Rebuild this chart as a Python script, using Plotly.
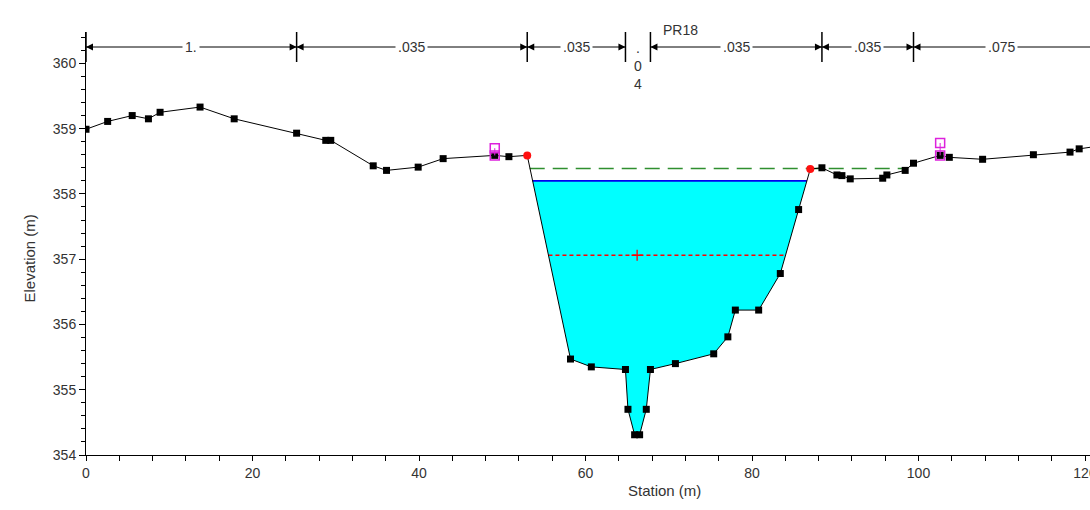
import numpy as np
import plotly.graph_objects as go

# ---------------- data ----------------
title = "PR18"
station = [0, 2.6, 5.55, 7.5, 8.9, 13.7, 17.8, 25.3, 28.8, 29.4, 34.5, 36.1, 39.9, 42.9,
           49.1, 50.8, 53.0, 58.2, 60.7, 64.8, 65.1, 65.9, 66.5, 67.3, 67.8, 70.8, 75.4,
           77.1, 78.0, 80.8, 83.4, 85.6, 87.0, 88.4, 90.2, 90.8, 91.8, 95.7, 96.2, 98.4,
           99.4, 102.6, 103.7, 107.7, 113.8, 118.2, 119.3, 121.5]
elevation = [358.99, 359.11, 359.20, 359.15, 359.25, 359.33, 359.15, 358.93, 358.82, 358.82,
             358.43, 358.36, 358.41, 358.54, 358.59, 358.57, 358.59, 355.47, 355.35, 355.31,
             354.70, 354.31, 354.31, 354.70, 355.31, 355.40, 355.55, 355.81, 356.22, 356.22,
             356.78, 357.76, 358.38, 358.40, 358.29, 358.28, 358.23, 358.24, 358.29, 358.36,
             358.47, 358.59, 358.56, 358.53, 358.60, 358.64, 358.69, 358.73]
bank_stations = [53.0, 87.0]
ws_elev = 358.20
eg_elev = 358.39
eg_stations = [53.3, 98.6]
crit_elev = 357.06
crit_mark_station = 66.2
ineff_left = {"sta": [49.1, 49.1], "elev": [358.70, 358.59]}
ineff_right = {"sta": [102.6, 102.6], "elev": [358.78, 358.59]}
n_stations = [0, 25.3, 53.0, 64.8, 67.8, 88.4, 99.4]
n_values = ["1.", ".035", ".035", ".04", ".035", ".035", ".075"]
x_tick_step = 20
y_tick_step = 1

# ---------------- layout geometry ----------------
W, H = 1090, 510
L_PX, R_PX, T_PX, B_PX = 86, 1090, 32, 455
X_RANGE = [0, 120.6]
Y_RANGE = [354, 360.48]
N_LINE_Y = 360.25
N_SEP_BOT = 360.02
PX_PER_M = (B_PX - T_PX) / (Y_RANGE[1] - Y_RANGE[0])

FONT = "Liberation Sans, Arial, sans-serif"
TXT = "#333333"
FS = 14

sta = np.array(station)
elv = np.array(elevation)


def crossings(level):
    i0 = int(np.argmin(elv))
    i = i0
    while i > 0 and elv[i - 1] < level:
        i -= 1
    a, b = i - 1, i
    xl = sta[a] + (level - elv[a]) / (elv[b] - elv[a]) * (sta[b] - sta[a])
    j = i0
    while j < len(elv) - 1 and elv[j + 1] < level:
        j += 1
    a, b = j, j + 1
    xr = sta[a] + (level - elv[a]) / (elv[b] - elv[a]) * (sta[b] - sta[a])
    return xl, xr


def paper_x(px):
    return (px - L_PX) / (R_PX - L_PX)


def paper_y(py):
    return (B_PX - py) / (B_PX - T_PX)


fig = go.Figure()

# water fill
wl, wr = crossings(ws_elev)
inside = (sta > wl) & (sta < wr)
fx = [wl] + list(sta[inside]) + [wr, wl]
fy = [ws_elev] + list(elv[inside]) + [ws_elev, ws_elev]
fig.add_trace(go.Scatter(x=fx, y=fy, fill="toself", fillcolor="#00ffff", mode="lines",
                         line=dict(width=0), hoverinfo="skip", showlegend=False))
# water surface line
fig.add_trace(go.Scatter(x=[wl, wr], y=[ws_elev, ws_elev], mode="lines",
                         line=dict(color="#0000ee", width=1.6), showlegend=False))
# energy grade line
fig.add_trace(go.Scatter(x=eg_stations, y=[eg_elev, eg_elev], mode="lines",
                         line=dict(color="#2f8f2f", width=1.4, dash="15px,8px"),
                         showlegend=False))
# critical line
cl, cr = crossings(crit_elev)
fig.add_trace(go.Scatter(x=[cl, cr], y=[crit_elev, crit_elev], mode="lines",
                         line=dict(color="#ff0000", width=1.3, dash="4px,3px"),
                         showlegend=False))
fig.add_trace(go.Scatter(x=[crit_mark_station], y=[crit_elev], mode="markers",
                         marker=dict(symbol="cross-thin", size=8, color="#ff0000",
                                     line=dict(color="#ff0000", width=1.3)),
                         showlegend=False))

# ground line
is_bank = np.isin(sta, bank_stations)
fig.add_trace(go.Scatter(x=sta, y=elv, mode="lines",
                         line=dict(color="black", width=1), showlegend=False))
fig.add_trace(go.Scatter(x=sta[~is_bank], y=elv[~is_bank], mode="markers",
                         marker=dict(symbol="square", size=7, color="black"),
                         showlegend=False))
fig.add_trace(go.Scatter(x=sta[is_bank], y=elv[is_bank], mode="markers",
                         marker=dict(symbol="circle", size=8, color="#ff1010"),
                         showlegend=False))

# ineffective markers
for ob in (ineff_left, ineff_right):
    fig.add_trace(go.Scatter(x=ob["sta"], y=ob["elev"], mode="lines+markers",
                             line=dict(color="#dd22dd", width=1),
                             marker=dict(symbol="square-open", size=9, color="#dd22dd",
                                         line=dict(width=1.5)),
                             showlegend=False))

# Manning's n bar
ends = n_stations[1:] + [station[-1]]
sep_x, sep_y, hx, hy = [], [], [], []
al_x, ar_x = [], []
annotations = []
for a, b, v in zip(n_stations, ends, n_values):
    sep_x += [a, a, None]
    sep_y += [N_SEP_BOT, Y_RANGE[1], None]
    if b - a < 5:
        annotations.append(dict(x=(a + b) / 2, y=N_LINE_Y - 19 / PX_PER_M,
                                xref="x", yref="y",
                                text="<br>".join(v), showarrow=False, yanchor="middle",
                                font=dict(family=FONT, size=FS, color=TXT)))
        continue
    hx += [a, b, None]
    hy += [N_LINE_Y, N_LINE_Y, None]
    al_x.append(a)
    ar_x.append(b)
    mid = (a + min(b, X_RANGE[1])) / 2
    annotations.append(dict(x=mid, y=N_LINE_Y, xref="x", yref="y", text=v,
                            showarrow=False, bgcolor="white", borderpad=2,
                            font=dict(family=FONT, size=FS, color=TXT)))
sep_x += [ends[-1], ends[-1], None]
sep_y += [N_SEP_BOT, Y_RANGE[1], None]

fig.add_trace(go.Scatter(x=hx, y=hy, mode="lines", line=dict(color="black", width=1),
                         showlegend=False))
fig.add_trace(go.Scatter(x=sep_x, y=sep_y, mode="lines", line=dict(color="black", width=1.5),
                         showlegend=False))
fig.add_trace(go.Scatter(x=al_x, y=[N_LINE_Y] * len(al_x), mode="markers",
                         marker=dict(symbol="arrow-left", size=7, color="black"),
                         showlegend=False))
fig.add_trace(go.Scatter(x=ar_x, y=[N_LINE_Y] * len(ar_x), mode="markers",
                         marker=dict(symbol="arrow-right", size=7, color="black"),
                         showlegend=False))

# titles
annotations.append(dict(x=paper_x(680), y=paper_y(20), xref="paper", yref="paper",
                        text=title, showarrow=False,
                        font=dict(family=FONT, size=FS, color=TXT)))
annotations.append(dict(x=paper_x(18), y=paper_y(259), xref="paper", yref="paper",
                        text="Elevation (m)", showarrow=False, textangle=-90,
                        font=dict(family=FONT, size=15, color=TXT)))
annotations.append(dict(x=paper_x(664), y=paper_y(501), xref="paper", yref="paper",
                        text="Station (m)", showarrow=False,
                        font=dict(family=FONT, size=15, color=TXT)))

axis_common = dict(showgrid=False, zeroline=False, showline=True, linecolor="black",
                   linewidth=1, ticks="outside", tickcolor="black", tickwidth=1,
                   automargin=False, ticklabeloverflow="allow",
                   tickfont=dict(family=FONT, size=FS, color=TXT))
fig.update_layout(
    width=W, height=H, autosize=False,
    margin=dict(l=L_PX, r=W - R_PX, t=T_PX, b=H - B_PX, pad=0, autoexpand=False),
    paper_bgcolor="white", plot_bgcolor="white",
    xaxis=dict(range=X_RANGE, tick0=0, dtick=x_tick_step, ticklen=5,
               minor=dict(dtick=4, ticks="outside", ticklen=5, tickcolor="black"),
               **axis_common),
    yaxis=dict(range=Y_RANGE, tick0=354, dtick=y_tick_step, ticklen=6,
               minor=dict(dtick=0.2, ticks="outside", ticklen=4, tickcolor="black"),
               **axis_common),
    annotations=annotations,
    showlegend=False,
)

fig.write_html(
    "out.html",
    config={"displayModeBar": False},
    post_script="document.body.style.margin='0';document.body.style.padding='0';"
                "document.documentElement.style.overflow='hidden';",
)
